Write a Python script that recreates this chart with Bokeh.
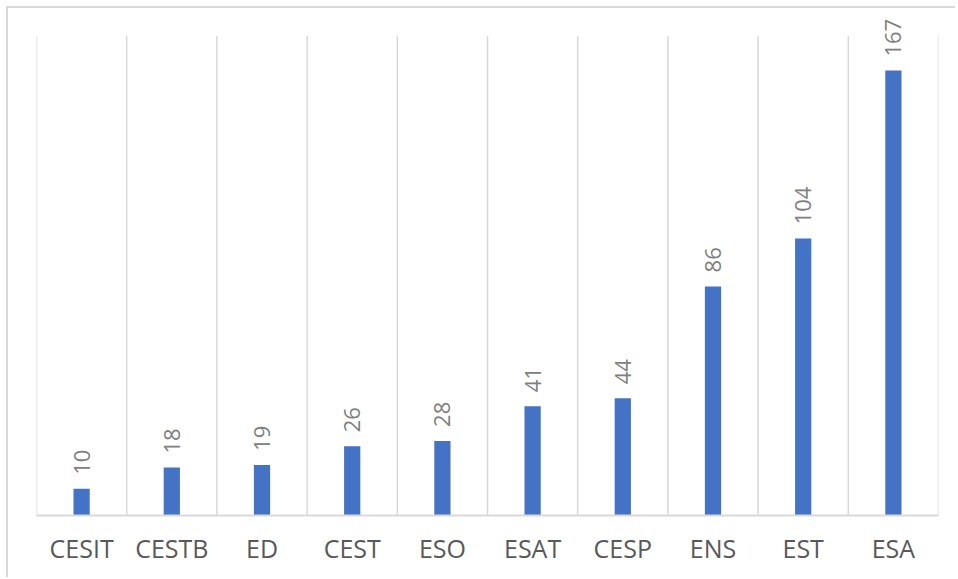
from bokeh.plotting import figure
from bokeh.models import FactorRange, Range1d, ColumnDataSource
from bokeh.core.properties import value
from bokeh.embed import file_html
from bokeh.resources import INLINE
import math

categories = ["CESIT", "CESTB", "ED", "CEST", "ESO", "ESAT", "CESP", "ENS", "EST", "ESA"]
counts = [10, 18, 19, 26, 28, 41, 44, 86, 104, 167]
grid_top = 180

src = ColumnDataSource(dict(cat=categories, val=counts, lbl=[str(v) for v in counts]))

p = figure(width=949, height=571,
           x_range=FactorRange(factors=categories, range_padding=0),
           y_range=Range1d(0, 190.3),
           output_backend="svg", toolbar_location=None, y_axis_location=None,
           min_border_left=28, min_border_right=19, min_border_top=0, min_border_bottom=64)
p.styles = {"border-left": "2px solid #d9d9d9", "border-top": "2px solid #d9d9d9",
            "margin-left": "6px", "margin-top": "6px"}
p.outline_line_color = None
p.xgrid.visible = False
p.ygrid.visible = False
p.background_fill_color = "white"

bounds = list(range(len(categories) + 1))
p.segment(x0=bounds, y0=[0] * len(bounds), x1=bounds, y1=[grid_top] * len(bounds),
          line_color="#d9d9d9", line_width=1.5)

p.vbar(x="cat", top="val", width=0.18, source=src, fill_color="#4472C4", line_color=None)

p.text(x="cat", y="val", text="lbl", source=src, angle=math.pi / 2,
       text_align="left", text_baseline="middle", y_offset=-14,
       text_font=value("Open Sans"), text_font_size="22px", text_color="#808080")

ax = p.xaxis[0]
ax.axis_line_color = "#d9d9d9"
ax.axis_line_width = 2
ax.major_tick_line_color = None
ax.minor_tick_line_color = None
ax.major_label_text_font = "Open Sans"
ax.major_label_text_font_size = "25px"
ax.major_label_text_color = "#595959"
ax.major_label_standoff = 9

open("out.html", "w").write(file_html(p, INLINE))
